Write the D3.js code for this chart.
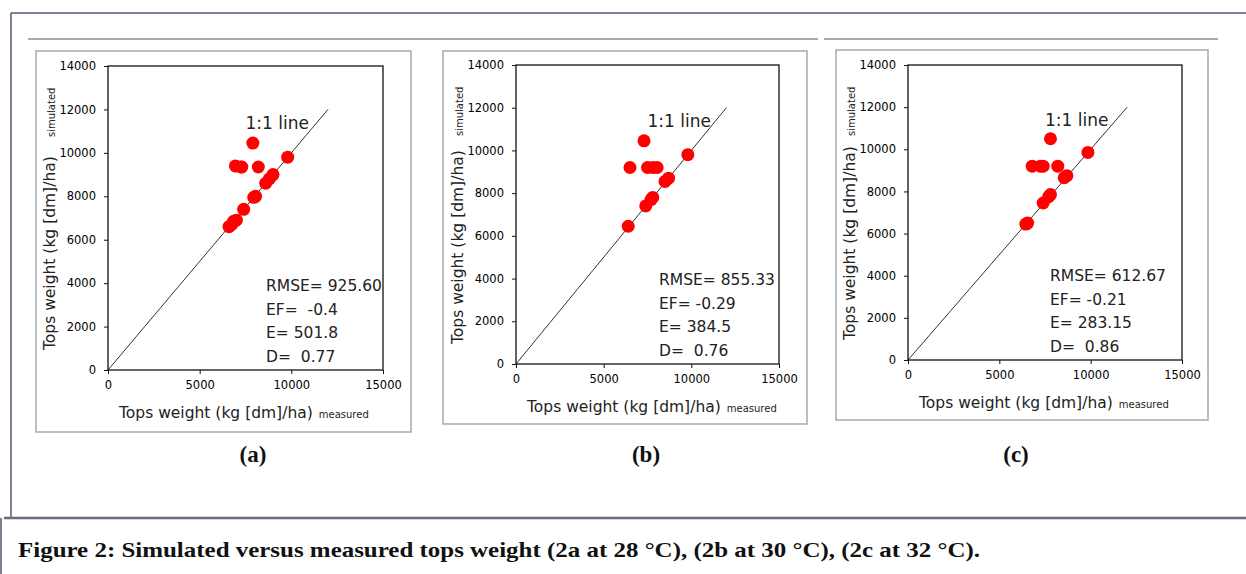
<!DOCTYPE html>
<html>
<head>
<meta charset="utf-8">
<script src="https://cdn.jsdelivr.net/npm/d3@7"></script>
<style>
  body { margin: 0; background: #fff; }
  svg { display: block; }
  .tick text { font-family: 'DejaVu Sans', Verdana, sans-serif; font-size: 11.5px; fill: #000; }
  .stat, .one-one, .axis-title { font-family: 'DejaVu Sans', Verdana, sans-serif; fill: #222; white-space: pre; }
</style>
</head>
<body>
<div id="chart"></div>
<script>
// measured vs simulated tops weight
const measuredA = [6600, 6750, 6850, 7000, 7400, 7950, 8050, 8600, 8800, 9000, 9800, 6950, 7250, 7300, 8200, 7900];
const simulatedA = [6600, 6700, 6850, 6900, 7400, 7950, 8000, 8600, 8800, 9000, 9800, 9400, 9350, 9350, 9350, 10450];

const measuredB = [6400, 7400, 7700, 7800, 8500, 8700, 9800, 6500, 7500, 7800, 8050, 7300];
const simulatedB = [6450, 7400, 7700, 7800, 8550, 8700, 9800, 9200, 9200, 9200, 9200, 10450];

const measuredC = [6450, 6550, 7400, 7700, 7800, 8550, 8700, 9850, 6800, 7250, 7400, 8200, 7800];
const simulatedC = [6450, 6500, 7450, 7750, 7850, 8650, 8750, 9850, 9200, 9200, 9200, 9200, 10500];

const statsA = ['RMSE= 925.60', 'EF=  -0.4', 'E= 501.8', 'D=  0.77'];
const statsB = ['RMSE= 855.33', 'EF= -0.29', 'E= 384.5', 'D=  0.76'];
const statsC = ['RMSE= 612.67', 'EF= -0.21', 'E= 283.15', 'D=  0.86'];

const panelLabels = ['(a)', '(b)', '(c)'];
const xTicks = [0, 5000, 10000, 15000];
const yTicks = [0, 2000, 4000, 6000, 8000, 10000, 12000, 14000];
const oneToOne = [0, 12000];
const caption = 'Figure 2: Simulated versus measured tops weight (2a at 28 \u00b0C), (2b at 30 \u00b0C), (2c at 32 \u00b0C).';

const width = 1246,
  height = 574;

// box = grey chart frame, plot = inner axes area (pixels)
const panels = [
  { measured: measuredA, simulated: simulatedA, stats: statsA, box: [36, 51, 411, 432], plot: [108, 66, 383, 370], statX: 266, labelX: 253 },
  { measured: measuredB, simulated: simulatedB, stats: statsB, box: [443, 51, 807, 424], plot: [516, 65, 779, 364], statX: 659, labelX: 646 },
  { measured: measuredC, simulated: simulatedC, stats: statsC, box: [836, 50, 1208, 420], plot: [908, 65, 1182, 360], statX: 1050, labelX: 1016 },
];

const svg = d3.select('#chart')
  .append('svg')
  .attr('width', width)
  .attr('height', height);

// page frame
const frame = '#55566e';
svg.append('line').attr('x1', 11).attr('x2', width).attr('y1', 13).attr('y2', 13)
  .attr('stroke', frame).attr('stroke-width', 1.5);
svg.append('line').attr('x1', 11).attr('x2', 11).attr('y1', 13).attr('y2', 518)
  .attr('stroke', frame).attr('stroke-width', 1.5);
svg.append('line').attr('x1', 1).attr('x2', 1).attr('y1', 518).attr('y2', height)
  .attr('stroke', frame).attr('stroke-width', 1.5);
svg.append('line').attr('x1', 4).attr('x2', width).attr('y1', 518).attr('y2', 518)
  .attr('stroke', '#6a6b82').attr('stroke-width', 2.5);
svg.append('line').attr('x1', 28).attr('x2', 818).attr('y1', 39).attr('y2', 39)
  .attr('stroke', '#555').attr('stroke-width', 1);
svg.append('line').attr('x1', 824).attr('x2', 1218).attr('y1', 39).attr('y2', 39)
  .attr('stroke', '#555').attr('stroke-width', 1);

panels.forEach((p, i) => {
  const [bx0, by0, bx1, by1] = p.box;
  const [left, top, right, bottom] = p.plot;

  const x = d3.scaleLinear().domain([0, 15000]).range([left, right]);
  const y = d3.scaleLinear().domain([0, 14000]).range([bottom, top]);

  const g = svg.append('g').attr('class', 'panel');

  g.append('rect')
    .attr('x', bx0).attr('y', by0)
    .attr('width', bx1 - bx0).attr('height', by1 - by0)
    .attr('fill', '#fff')
    .attr('stroke', '#a9a9a9')
    .attr('stroke-width', 1.5);

  // 1:1 line
  g.append('line')
    .attr('x1', x(oneToOne[0])).attr('y1', y(oneToOne[0]))
    .attr('x2', x(oneToOne[1])).attr('y2', y(oneToOne[1]))
    .attr('stroke', '#333')
    .attr('stroke-width', 1);

  g.append('text')
    .attr('class', 'one-one')
    .attr('x', x(7500))
    .attr('y', y(11100))
    .attr('font-size', 17)
    .text('1:1 line');

  g.selectAll('circle')
    .data(p.measured.map((m, k) => ({ m, s: p.simulated[k] })))
    .join('circle')
    .attr('cx', (d) => x(d.m))
    .attr('cy', (d) => y(d.s))
    .attr('r', 6.5)
    .attr('fill', '#ff0000');

  // axes
  g.append('g')
    .attr('transform', `translate(0,${bottom})`)
    .call(d3.axisBottom(x).tickValues(xTicks).tickFormat(d3.format('d')).tickSize(4).tickPadding(7))
    .call((a) => a.select('.domain').remove());

  g.append('g')
    .attr('transform', `translate(${left},0)`)
    .call(d3.axisLeft(y).tickValues(yTicks).tickFormat(d3.format('d')).tickSize(4).tickPadding(8))
    .call((a) => a.select('.domain').remove());

  g.selectAll('.tick line').attr('stroke', '#111');

  g.append('rect')
    .attr('x', left).attr('y', top)
    .attr('width', right - left).attr('height', bottom - top)
    .attr('fill', 'none')
    .attr('stroke', '#111')
    .attr('stroke-width', 1.3);

  // stats box
  g.selectAll('.stat')
    .data(p.stats)
    .join('text')
    .attr('class', 'stat')
    .attr('x', p.statX)
    .attr('y', (d, k) => bottom - 79 + k * 23.5)
    .attr('font-size', 15.5)
    .text((d) => d);

  // axis titles
  const xTitle = g.append('text')
    .attr('class', 'axis-title')
    .attr('x', left + 11)
    .attr('y', bottom + 48)
    .attr('font-size', 15.5);
  xTitle.append('tspan').text('Tops weight (kg [dm]/ha)');
  xTitle.append('tspan').attr('font-size', 10).attr('dx', 6).text('measured');

  g.append('text')
    .attr('class', 'axis-title')
    .attr('transform', `translate(${left - 53},${bottom - 20}) rotate(-90)`)
    .attr('font-size', 15.5)
    .text('Tops weight (kg [dm]/ha)');

  g.append('text')
    .attr('class', 'axis-title')
    .attr('transform', `translate(${left - 53},${top + 71}) rotate(-90)`)
    .attr('font-size', 10)
    .text('simulated');

  svg.append('text')
    .attr('x', p.labelX)
    .attr('y', 462)
    .attr('text-anchor', 'middle')
    .attr('font-family', "'Liberation Serif', 'Times New Roman', serif")
    .attr('font-weight', 'bold')
    .attr('font-size', 23)
    .attr('fill', '#111')
    .text(panelLabels[i]);
});

svg.append('text')
  .attr('x', 18)
  .attr('y', 557)
  .attr('font-family', "'Liberation Serif', 'Times New Roman', serif")
  .attr('font-weight', 'bold')
  .attr('font-size', 22)
  .attr('textLength', 962)
  .attr('lengthAdjust', 'spacingAndGlyphs')
  .attr('fill', '#111')
  .text(caption);
</script>
</body>
</html>
